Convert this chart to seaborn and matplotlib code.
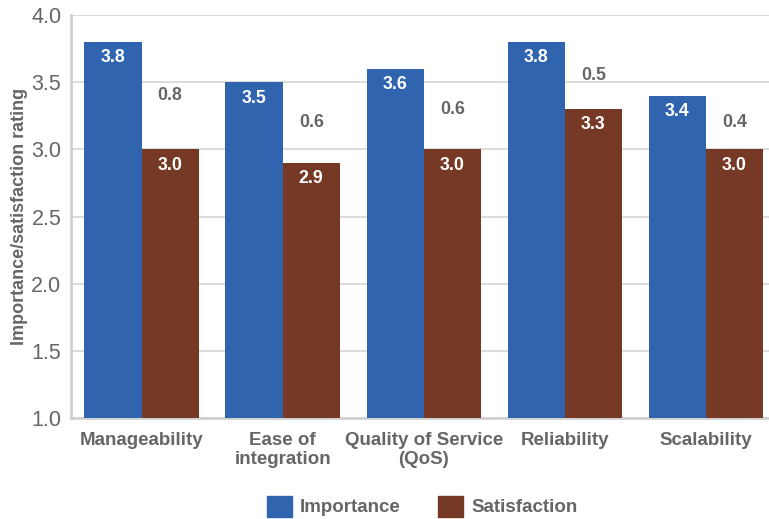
import matplotlib
matplotlib.use('Agg')
import matplotlib.pyplot as plt
import pandas as pd
import seaborn as sns
from matplotlib.patches import Rectangle

categories = ['Manageability', 'Ease of\nintegration', 'Quality of Service\n(QoS)', 'Reliability', 'Scalability']
importance = [3.8, 3.5, 3.6, 3.8, 3.4]
satisfaction = [3.0, 2.9, 3.0, 3.3, 3.0]
series = ['Importance', 'Satisfaction']
colors = ['#3064AF', '#753925']
grey = '#666666'

df = pd.DataFrame({
    'category': categories * 2,
    'series': ['Importance'] * 5 + ['Satisfaction'] * 5,
    'value': importance + satisfaction,
})

sns.set_style('white')
plt.rcParams['font.family'] = ['Liberation Sans', 'DejaVu Sans']

fig = plt.figure(figsize=(7.69, 5.19), dpi=100)
ax = fig.add_axes([0.0923, 0.1946, 0.9175, 0.7764])

sns.barplot(data=df, x='category', y='value', hue='series', palette=colors,
            width=0.81, saturation=1, linewidth=0, ax=ax, legend=False, zorder=3)

ax.set_ylim(1.0, 4.0)
ax.set_yticks([1.0, 1.5, 2.0, 2.5, 3.0, 3.5, 4.0])
ax.set_yticklabels([f'{v:.1f}' for v in ax.get_yticks()], fontsize=15.5, color=grey)
ax.set_xticks(range(len(categories)))
ax.set_xticklabels(categories, fontsize=13.5, fontweight='bold', color=grey, linespacing=1.2)
ax.set_xlabel('')
ax.set_ylabel('Importance/satisfaction rating', fontsize=13, fontweight='bold', color=grey, labelpad=2)
ax.tick_params(axis='y', length=0, pad=7)
ax.tick_params(axis='x', length=0, pad=10)
ax.set_xlim(-0.5, len(categories) - 0.5)

ax.grid(axis='y', color='#D9D9D9', linewidth=1.3, zorder=0)
for s in ['top', 'right']:
    ax.spines[s].set_visible(False)
ax.spines['left'].set_color('#D0D0D0')
ax.spines['left'].set_linewidth(2)
ax.spines['bottom'].set_color('#D0D0D0')
ax.spines['bottom'].set_linewidth(2)

# value labels inside bars and gap labels
for i, (imp, sat) in enumerate(zip(importance, satisfaction)):
    xi = i - 0.2025
    xs = i + 0.2025
    ax.text(xi, imp - 0.055, f'{imp:.1f}', ha='center', va='top', color='white',
            fontsize=12.8, fontweight='bold', zorder=5)
    ax.text(xs, sat - 0.055, f'{sat:.1f}', ha='center', va='top', color='white',
            fontsize=12.8, fontweight='bold', zorder=5)
    ax.text(xs, (imp + sat) / 2, f'{imp - sat:.1f}', ha='center', va='center', color=grey,
            fontsize=12.8, fontweight='bold', zorder=5)

handles = [Rectangle((0, 0), 1, 1, color=c) for c in colors]
fig.legend(handles, series, loc='center', bbox_to_anchor=(0.549, 0.025), ncol=2,
           frameon=False, handlelength=1.35, handleheight=1.35, columnspacing=2.0,
           handletextpad=0.4, prop={'size': 13.5, 'weight': 'bold'}, labelcolor=grey)

fig.savefig('out.png', dpi=100)
